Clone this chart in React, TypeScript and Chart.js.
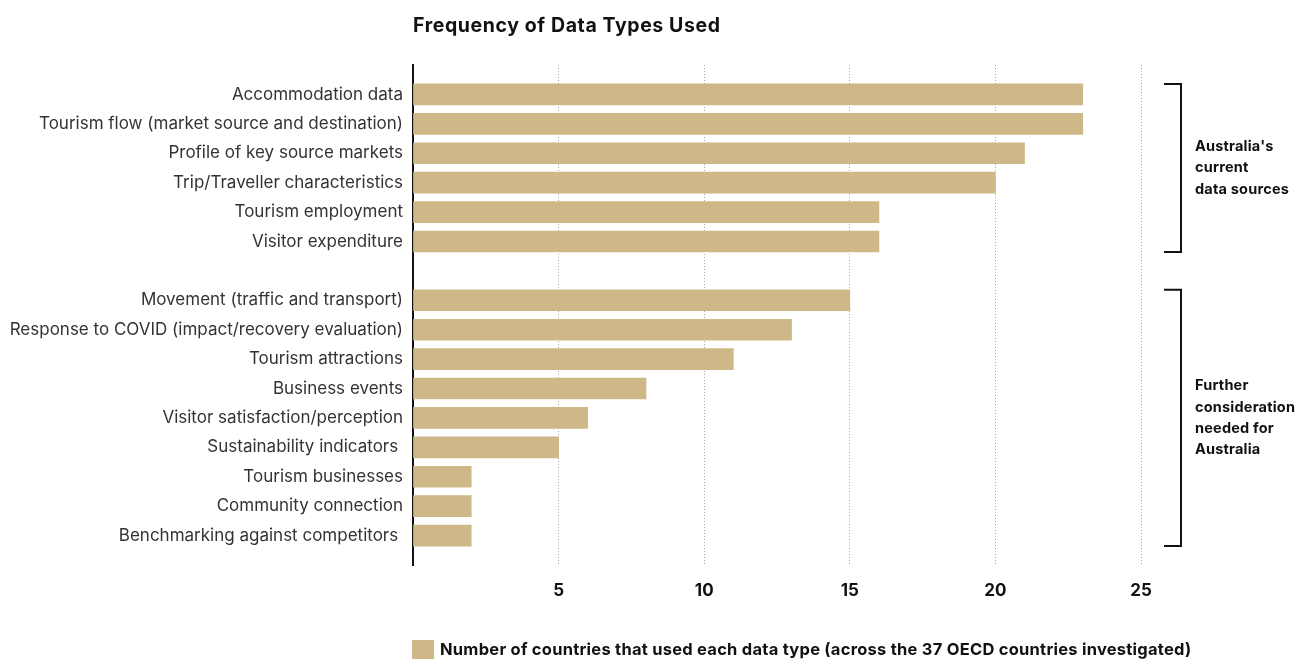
import React, { useEffect, useRef } from "react";
import { Chart, registerables } from "chart.js";

Chart.register(...registerables);

const title = "Frequency of Data Types Used";
const categories = [
  "",
  "Accommodation data",
  "Tourism flow (market source and destination)",
  "Profile of key source markets",
  "Trip/Traveller characteristics",
  "Tourism employment",
  "Visitor expenditure",
  "",
  "Movement (traffic and transport)",
  "Response to COVID (impact/recovery evaluation)",
  "Tourism attractions",
  "Business events",
  "Visitor satisfaction/perception",
  "Sustainability indicators ",
  "Tourism businesses",
  "Community connection",
  "Benchmarking against competitors ",
  "",
];
const countries = [null, 23, 23, 21, 20, 16, 16, null, 15, 13, 11, 8, 6, 5, 2, 2, 2, null];
const seriesLabel =
  "Number of countries that used each data type (across the 37 OECD countries investigated)";
const groups = [
  { from: 1, to: 6, lines: ["Australia's", "current", "data sources"] },
  { from: 8, to: 16, lines: ["Further", "consideration", "needed for", "Australia"] },
];
const xTicks = [5, 10, 15, 20, 25];

const BAR = "#CFB887";
const FONT = "Inter, 'Noto Sans', sans-serif";

const overlay = {
  id: "overlay",
  afterDraw(chart: any) {
    const { ctx, chartArea, scales } = chart;
    const y = scales.y;
    ctx.save();
    // title
    ctx.fillStyle = "#111";
    ctx.font = `bold 19.5px ${FONT}`;
    (ctx as any).letterSpacing = "0.6px";
    ctx.textAlign = "left";
    ctx.textBaseline = "middle";
    ctx.fillText(title, chartArea.left, 26);

    // brackets
    const half = 10.5;
    groups.forEach((g) => {
      const top = y.getPixelForValue(g.from) - half;
      const bottom = y.getPixelForValue(g.to) + half;
      const xr = chartArea.right + 40;
      const xl = chartArea.right + 23;
      ctx.strokeStyle = "#111";
      ctx.lineWidth = 2;
      ctx.beginPath();
      ctx.moveTo(xl, top);
      ctx.lineTo(xr, top);
      ctx.lineTo(xr, bottom);
      ctx.lineTo(xl, bottom);
      ctx.stroke();
      const mid = (top + bottom) / 2;
      const lh = 21.3;
      ctx.fillStyle = "#111";
      ctx.font = `bold 14.5px ${FONT}`;
      (ctx as any).letterSpacing = "0.2px";
      ctx.textAlign = "left";
      ctx.textBaseline = "middle";
      g.lines.forEach((ln, i) => {
        const yy = mid + (i - (g.lines.length - 1) / 2) * lh;
        ctx.fillText(ln, xr + 14, yy);
      });
    });

    // legend
    const lx = chartArea.left - 1;
    const ly = 640;
    ctx.fillStyle = BAR;
    ctx.fillRect(lx, ly, 22, 19);
    ctx.fillStyle = "#111";
    ctx.font = `bold 16.5px ${FONT}`;
    (ctx as any).letterSpacing = "0.25px";
    ctx.textAlign = "left";
    ctx.textBaseline = "middle";
    ctx.fillText(chart.data.datasets[0].label, lx + 28, ly + 10);
    ctx.restore();
  },
};

export default function App() {
  const ref = useRef<HTMLCanvasElement>(null);
  useEffect(() => {
    if (!ref.current) return;
    const chart = new Chart(ref.current, {
      type: "bar",
      data: {
        labels: categories,
        datasets: [
          {
            label: seriesLabel,
            data: countries as any,
            backgroundColor: BAR,
            borderWidth: 0,
            barThickness: 21,
          },
        ],
      },
      plugins: [overlay],
      options: {
        indexAxis: "y",
        animation: false,
        responsive: false,
        maintainAspectRatio: false,
        layout: { padding: { top: 65, right: 157, bottom: 0, left: 0 } },
        plugins: {
          legend: { display: false },
          title: { display: false },
          tooltip: { enabled: false },
        },
        scales: {
          x: {
            type: "linear",
            min: 0,
            max: 25,
            afterBuildTicks: (axis: any) => {
              axis.ticks = [0, ...xTicks].map((v) => ({ value: v }));
            },
            afterFit: (axis: any) => {
              axis.height = 94;
            },
            ticks: {
              padding: 16,
              color: "#111",
              font: { family: FONT, size: 17, weight: "bold" },
              callback: (v: any) => (v === 0 ? "" : String(v)),
            },
            grid: {
              color: (c: any) => (c.tick && c.tick.value === 0 ? "rgba(0,0,0,0)" : "#a8a8a8"),
              lineWidth: 1,
              drawTicks: false,
            },
            border: { display: false, dash: [1, 2] },
          },
          y: {
            type: "category",
            offset: false,
            afterFit: (axis: any) => {
              axis.width = 413;
            },
            ticks: {
              padding: 10,
              color: "#333",
              autoSkip: false,
              font: { family: FONT, size: 17 },
            },
            grid: { display: false, drawTicks: false },
            border: { display: true, color: "#111", width: 2 },
          },
        },
      },
    });
    return () => chart.destroy();
  }, []);
  return (
    <div style={{ position: "fixed", left: 0, top: 0, width: 1298, height: 659, background: "#fff" }}>
      <canvas ref={ref} width={1298} height={659} style={{ width: 1298, height: 659 }} />
    </div>
  );
}
